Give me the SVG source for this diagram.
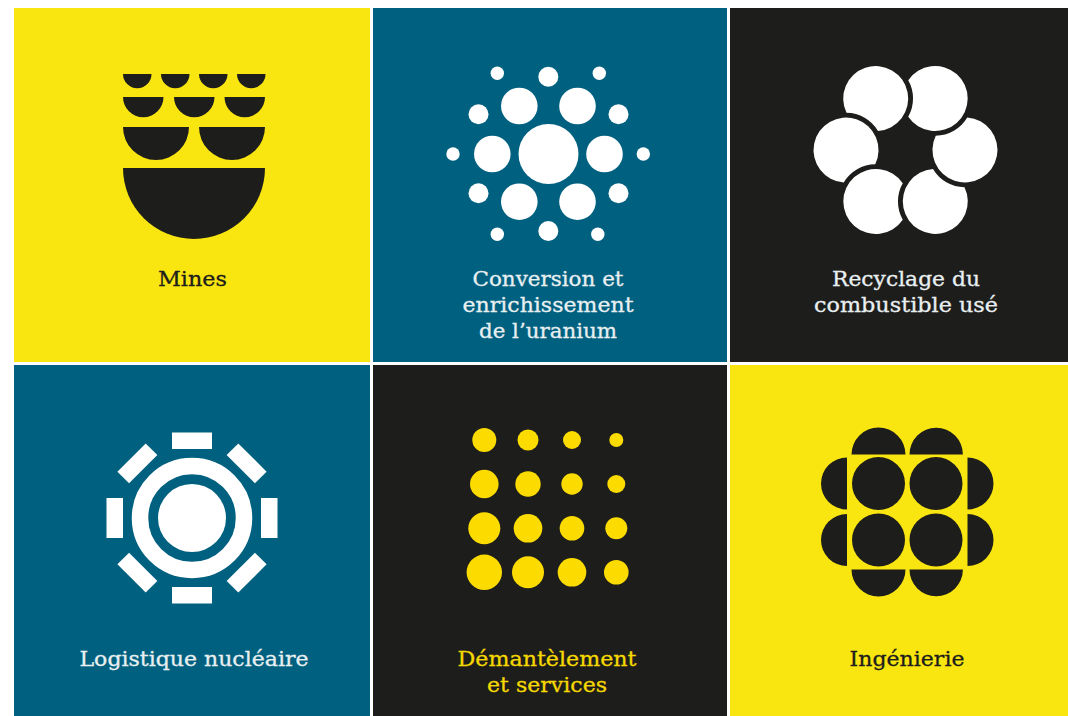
<svg xmlns="http://www.w3.org/2000/svg" width="1068" height="716" viewBox="0 0 1068 716">
<style>
.y{fill:#f9e611}.t{fill:#00607f}.k{fill:#1d1d1b}.w{fill:#fff}.d{fill:#fcdc00}
text{font-family:"DejaVu Serif","Liberation Serif",serif;font-size:20.500px;text-anchor:middle;stroke-width:.3px}
.lk{fill:#1d1d1b;stroke:#1d1d1b}.lw{fill:#e8eff1;stroke:#e8eff1}.ly{fill:#f5d800;stroke:#f5d800}
</style>
<defs>
<path id="petal" d="M27 -18.200A32.500 32.500 0 1 0 27 18.200A37 37 0 0 1 27 -18.200Z"/>
<rect id="bar" x="-20" y="-85.500" width="40" height="16.500"/>
</defs>
<rect width="1068" height="716" fill="#fff"/>
<g id="mines">
<rect class="y" x="14" y="8" width="356" height="354"/>
<g class="k">
<path d="M123 74h28.500a14.250 14.250 0 0 1-28.500 0ZM161 74h28.500a14.250 14.250 0 0 1-28.500 0ZM199 74h28.500a14.250 14.250 0 0 1-28.500 0ZM237 74h28.500a14.250 14.250 0 0 1-28.500 0Z"/>
<path d="M123 97h40.500a20.250 20.250 0 0 1-40.500 0ZM174 97h40.500a20.250 20.250 0 0 1-40.500 0ZM224.500 97h40.500a20.250 20.250 0 0 1-40.500 0Z"/>
<path d="M123 127h66a33 33 0 0 1-66 0ZM199 127h66a33 33 0 0 1-66 0Z"/>
<path d="M123 168h142a71 71 0 0 1-142 0Z"/>
</g>
<text class="lk" x="192.500" y="286" textLength="69" lengthAdjust="spacingAndGlyphs">Mines</text>
</g>
<g id="conversion">
<rect class="t" x="373" y="8" width="354" height="354"/>
<g class="w">
<circle cx="548.500" cy="154" r="30"/>
<circle cx="519.300" cy="106" r="18.300"/><circle cx="577.500" cy="106" r="18.300"/><circle cx="604.500" cy="154" r="18.300"/><circle cx="577.500" cy="201.700" r="18.300"/><circle cx="519.300" cy="201.700" r="18.300"/><circle cx="492.300" cy="154" r="18.300"/>
<circle cx="478.500" cy="114.300" r="10"/><circle cx="548.300" cy="76.700" r="10"/><circle cx="618.500" cy="114.300" r="10"/><circle cx="618.500" cy="193.300" r="10"/><circle cx="548.300" cy="231" r="10"/><circle cx="478.500" cy="193.300" r="10"/>
<circle cx="497.300" cy="73.300" r="6.700"/><circle cx="599.300" cy="73.300" r="6.700"/><circle cx="643.300" cy="154" r="6.700"/><circle cx="597.800" cy="234.300" r="6.700"/><circle cx="497.300" cy="234.300" r="6.700"/><circle cx="453" cy="154" r="6.700"/>
</g>
<text class="lw" x="548" y="286" textLength="151" lengthAdjust="spacingAndGlyphs">Conversion et</text>
<text class="lw" x="548" y="312" textLength="171" lengthAdjust="spacingAndGlyphs">enrichissement</text>
<text class="lw" x="548" y="338" textLength="138" lengthAdjust="spacingAndGlyphs">de l’uranium</text>
</g>
<g id="recyclage">
<rect class="k" x="730" y="8" width="338" height="354"/>
<g class="w">
<use href="#petal" transform="translate(875.750 98.500) rotate(120)"/>
<use href="#petal" transform="translate(935.250 98.500) rotate(180)"/>
<use href="#petal" transform="translate(965 150) rotate(240)"/>
<use href="#petal" transform="translate(935.250 201.500) rotate(300)"/>
<use href="#petal" transform="translate(875.750 201.500)"/>
<use href="#petal" transform="translate(846 150) rotate(60)"/>
</g>
<text class="lw" x="906" y="286" textLength="148" lengthAdjust="spacingAndGlyphs">Recyclage du</text>
<text class="lw" x="906" y="312" textLength="184" lengthAdjust="spacingAndGlyphs">combustible usé</text>
</g>
<g id="logistique">
<rect class="t" x="14" y="365" width="356" height="351"/>
<g class="w">
<circle cx="192" cy="518" r="52" fill="none" stroke="#fff" stroke-width="16.500"/>
<circle cx="192" cy="518" r="34"/>
<g transform="translate(192 518)">
<use href="#bar"/><use href="#bar" transform="rotate(45)"/><use href="#bar" transform="rotate(90)"/><use href="#bar" transform="rotate(135)"/><use href="#bar" transform="rotate(180)"/><use href="#bar" transform="rotate(225)"/><use href="#bar" transform="rotate(270)"/><use href="#bar" transform="rotate(315)"/>
</g>
</g>
<text class="lw" x="194" y="666" textLength="229" lengthAdjust="spacingAndGlyphs">Logistique nucléaire</text>
</g>
<g id="demantelement">
<rect class="k" x="373" y="365" width="354" height="351"/>
<g class="d">
<circle cx="484.300" cy="440" r="12"/><circle cx="528" cy="440" r="10.500"/><circle cx="572" cy="440" r="9"/><circle cx="616.300" cy="440" r="7"/>
<circle cx="484.300" cy="484" r="14.300"/><circle cx="528" cy="484" r="12.700"/><circle cx="572" cy="484" r="10.700"/><circle cx="616.300" cy="484" r="9"/>
<circle cx="484.300" cy="528.300" r="16"/><circle cx="528" cy="528.300" r="14.300"/><circle cx="572" cy="528.300" r="12.300"/><circle cx="616.300" cy="528.300" r="11"/>
<circle cx="484.300" cy="572.300" r="17.700"/><circle cx="528" cy="572.300" r="16"/><circle cx="572" cy="572.300" r="14.300"/><circle cx="616.300" cy="572.300" r="12.300"/>
</g>
<text class="ly" x="547" y="666" textLength="179" lengthAdjust="spacingAndGlyphs">Démantèlement</text>
<text class="ly" x="547" y="692" textLength="120" lengthAdjust="spacingAndGlyphs">et services</text>
</g>
<g id="ingenierie">
<rect class="y" x="730" y="365" width="338" height="351"/>
<g class="k">
<circle cx="878.500" cy="483.500" r="26.500"/><circle cx="936" cy="483.500" r="26.500"/><circle cx="878.500" cy="540" r="26.500"/><circle cx="936" cy="540" r="26.500"/>
<path d="M851.500 454.500a27 27 0 0 1 54 0ZM909.500 454.500a26.700 26.700 0 0 1 53.400 0Z"/>
<path d="M851.500 569.500a27 27 0 0 0 54 0ZM909.500 569.500a26.700 26.700 0 0 0 53.400 0Z"/>
<path d="M847 457.500a26 26 0 0 0 0 52ZM847 514a26 26 0 0 0 0 52Z"/>
<path d="M967.500 457.500a26 26 0 0 1 0 52ZM967.500 514a26 26 0 0 1 0 52Z"/>
</g>
<text class="lk" x="907" y="666" textLength="115" lengthAdjust="spacingAndGlyphs">Ingénierie</text>
</g>
</svg>
